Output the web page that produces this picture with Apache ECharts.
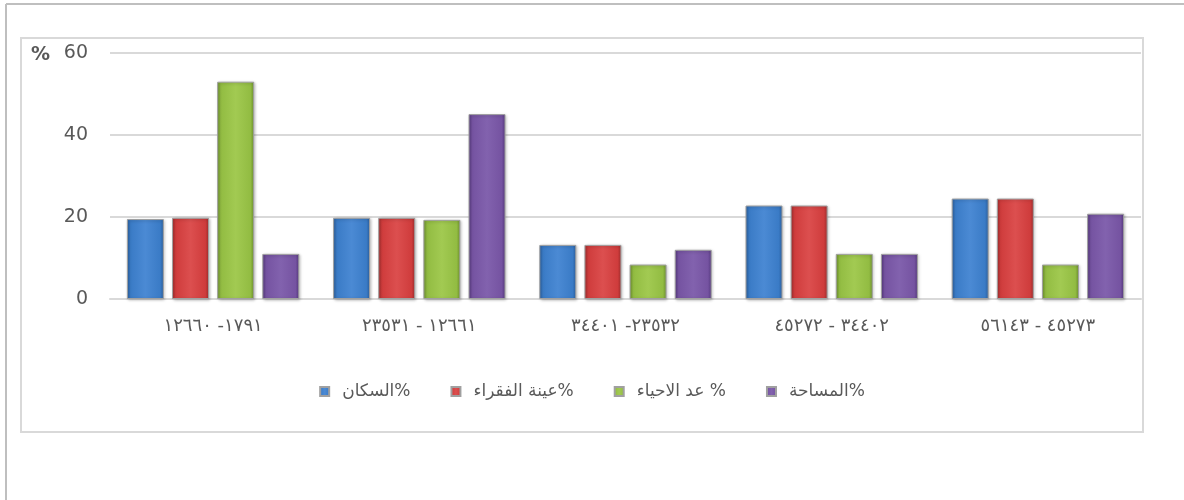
<!DOCTYPE html>
<html>
<head>
<meta charset="utf-8">
<script src="https://cdn.jsdelivr.net/npm/echarts@6/dist/echarts.min.js"></script>
<style>
html,body{margin:0;padding:0;background:#fff;}
#main{width:1184px;height:500px;}
</style>
</head>
<body>
<div id="main"></div>
<script>
// الفئات (نطاقات) - logical order, the browser bidi puts them as in the picture
var categories = ['١٧٩١- ١٢٦٦٠', '١٢٦٦١ - ٢٣٥٣١', '٢٣٥٣٢- ٣٤٤٠١', '٣٤٤٠٢ - ٤٥٢٧٢', '٤٥٢٧٣ - ٥٦١٤٣'];
var seriesNames = ['السكان%', 'عينة الفقراء%', 'عد الاحياء %', 'المساحة%'];
var populationPct = [19.5, 19.8, 13.2, 22.8, 24.5];
var poorSamplePct = [19.8, 19.8, 13.2, 22.8, 24.5];
var neighbourhoodPct = [53.0, 19.3, 8.4, 11.0, 8.4];
var areaPct = [11.0, 45.1, 12.0, 11.0, 20.8];
var yTicks = [0, 20, 40, 60];

// colours: [dark edge, body, light]
var barColors = [
	['#2c609f', '#3a7bc6', '#4b8ad4'],
	['#a02e2e', '#cf3c3c', '#dc4f4f'],
	['#6f922e', '#92bc42', '#a2ca52'],
	['#56397f', '#7553a1', '#8262ae']
];

function makeFill(c){
	return new echarts.graphic.LinearGradient(0, 0, 1, 0, [
		{offset: 0, color: c[0]},
		{offset: 0.1, color: c[1]},
		{offset: 0.5, color: c[2]},
		{offset: 0.9, color: c[1]},
		{offset: 1, color: c[0]}
	]);
}

bevel_barChart = {
	xAxisData:null,
	seriesData:null,

	option:null,
	div:null,
	chart:null,
	initData:function(div,obj){
		this.xAxisData = obj.xAxisData;
		this.seriesData = obj.seriesData;

		this.div = div;
		this.chart = echarts.init(this.div);
		var barChartObject = this;
		this.option = {
			animation: false,
			textStyle: { fontFamily: 'DejaVu Sans' },
			graphic: [
				// outer frame (top + left line only)
				{ type: 'line', shape: {x1: 6, y1: 4, x2: 1184, y2: 4}, style: {stroke: '#bfbfbf', lineWidth: 2} },
				{ type: 'line', shape: {x1: 6, y1: 4, x2: 6, y2: 500}, style: {stroke: '#bfbfbf', lineWidth: 2} },
				// chart area border
				{ type: 'rect', shape: {x: 21, y: 38, width: 1122, height: 394}, style: {fill: 'none', stroke: '#d9d9d9', lineWidth: 2} },
				{ type: 'text', left: 31, top: 46, style: {text: '%', fontSize: 19, fontWeight: 'bold', fill: '#595959', fontFamily: 'DejaVu Sans'} }
			],
			legend: {
				data: seriesNames,
				bottom: 95,
				left: 'center',
				itemWidth: 9,
				itemHeight: 9,
				itemGap: 40,
				icon: 'rect',
				textStyle: { color: '#595959', fontSize: 17, fontFamily: 'DejaVu Sans', padding: [0, 0, 0, 8] }
			},
			grid: {
				left: 110,
				right: 43,
				top: 53,
				bottom: 201,
				containLabel: false
			},
			xAxis: [{
				type: 'category',
				data: [],
				axisLine: { show: true, lineStyle: { color: '#d9d9d9', width: 2 } },
				axisTick: { show: false },
				axisLabel: {
					color: '#595959',
					fontSize: 18,
					margin: 18,
					fontFamily: 'DejaVu Sans'
				}
			}],
			yAxis: [{
				type: 'value',
				min: 0,
				max: 60,
				interval: 20,
				axisLine: { show: false },
				axisTick: { show: false },
				splitLine: { lineStyle: { color: '#d9d9d9', width: 2 } },
				axisLabel: {
					color: '#595959',
					fontSize: 19,
					margin: 22,
					fontFamily: 'DejaVu Sans',
					formatter: function(v){ return yTicks.indexOf(v) >= 0 ? String(v) : ''; }
				}
			}],
			series: []
		};

		bevel_barChart.process(barChartObject);
	},
	process:function (barChartObject){
		var series = [];
		for (var i = 0; i < barChartObject.seriesData.length; i++) {
			series.push({
				name: seriesNames[i],
				type: 'bar',
				barWidth: 37,
				barGap: '22%',
				data: barChartObject.seriesData[i],
				itemStyle: {
					color: makeFill(barColors[i]),
					borderColor: '#a0a0a0',
					borderWidth: 1,
					shadowColor: 'rgba(0,0,0,0.25)',
					shadowBlur: 3,
					shadowOffsetX: 1,
					shadowOffsetY: 1
				}
			});
		}
		barChartObject.option.xAxis[0].data = barChartObject.xAxisData;
		barChartObject.option.series = series;
		barChartObject.option.color = barColors.map(function(c){ return c[1]; });

		barChartObject.view();
	},
	view:function(){
		this.chart.setOption(this.option, true);
	},
	resize:function(){
		if(this.chart != null){
			this.chart.resize();
		}
	}
};

bevel_barChart.initData(document.getElementById('main'), {
	xAxisData: categories,
	seriesData: [populationPct, poorSamplePct, neighbourhoodPct, areaPct]
});
</script>
</body>
</html>
